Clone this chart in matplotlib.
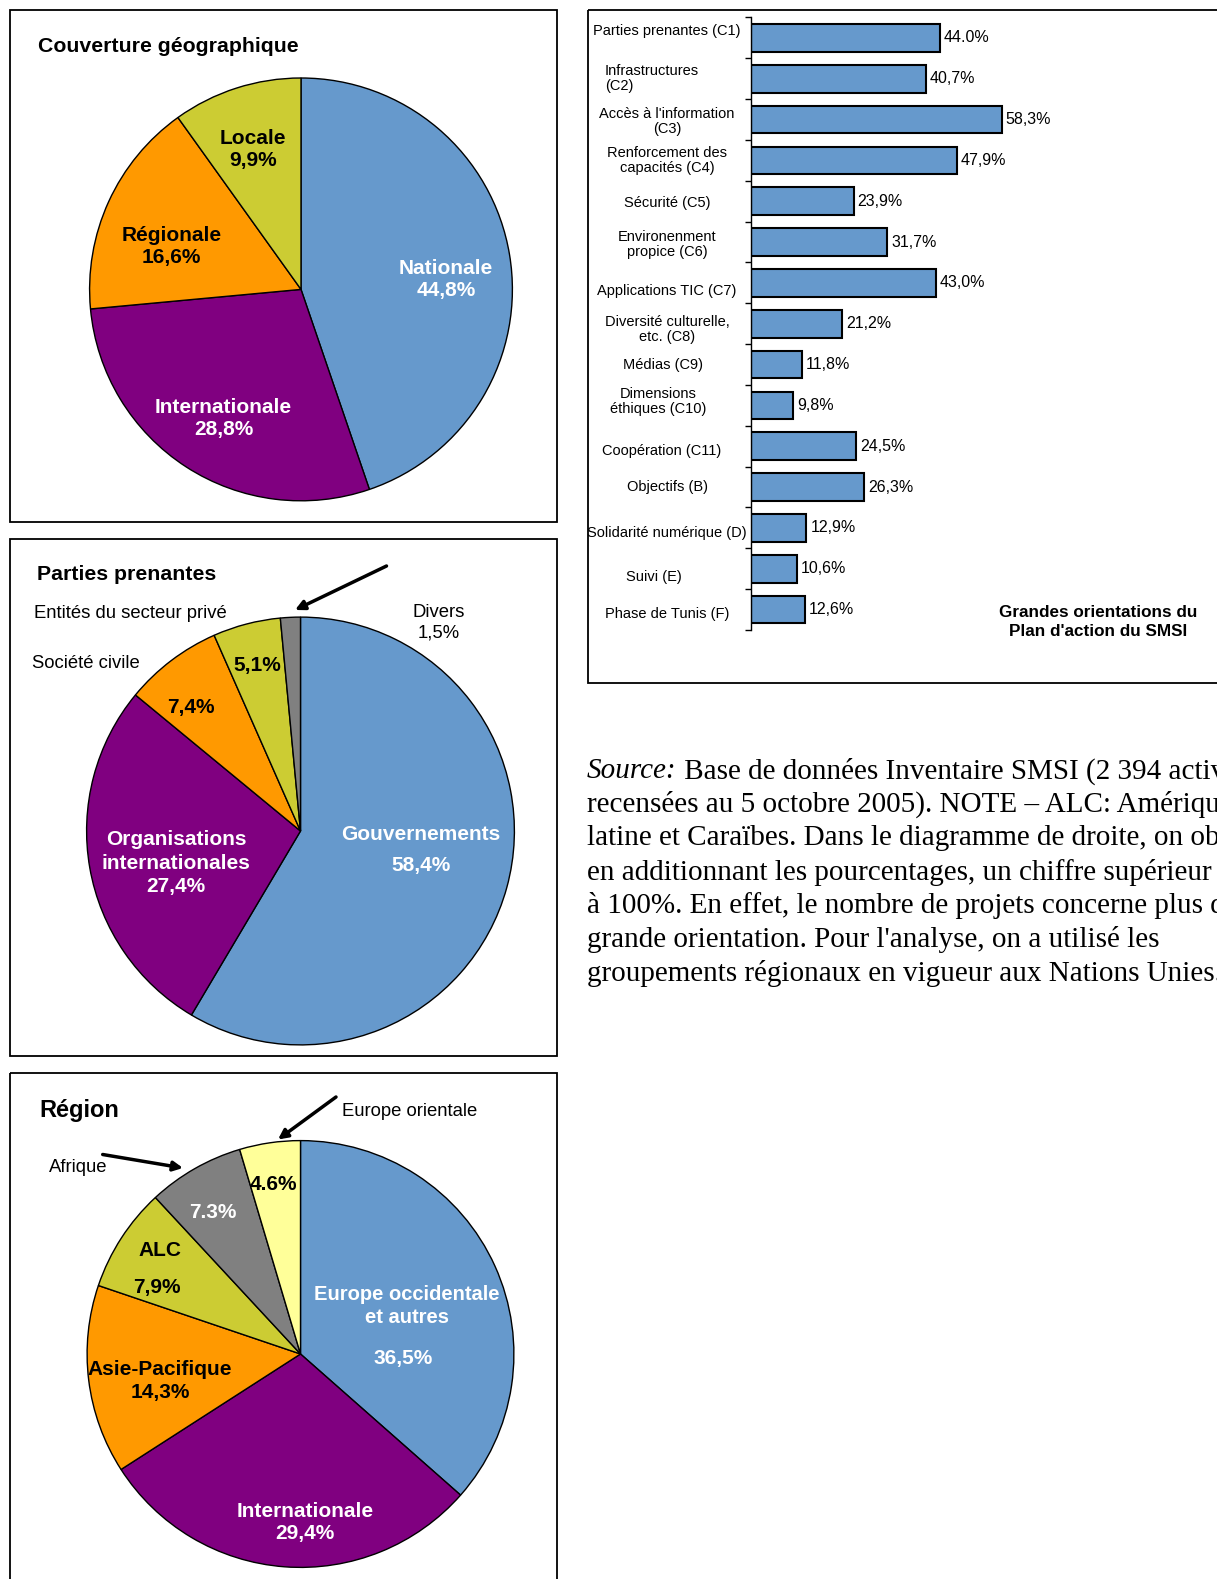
import matplotlib
matplotlib.use('Agg')
import matplotlib.pyplot as plt
from matplotlib.patches import Rectangle
from matplotlib.transforms import blended_transform_factory

plt.rcParams['font.family'] = ['Liberation Sans', 'DejaVu Sans']

W, H = 1217, 1579

# --- Données ---
geo_labels = ['Nationale', 'Internationale', 'Régionale', 'Locale']
geo_values = [44.8, 28.8, 16.6, 9.9]
geo_colors = ['#6699CC', '#800080', '#FF9900', '#CCCC33']

pp_labels = ['Gouvernements', 'Organisations\ninternationales', 'Société civile',
             'Entités du secteur privé', 'Divers']
pp_values = [58.4, 27.4, 7.4, 5.1, 1.5]
pp_colors = ['#6699CC', '#800080', '#FF9900', '#CCCC33', '#808080']

reg_labels = ['Europe occidentale\net autres', 'Internationale', 'Asie-Pacifique',
              'ALC', 'Afrique', 'Europe orientale']
reg_values = [36.5, 29.4, 14.3, 7.9, 7.3, 4.6]
reg_colors = ['#6699CC', '#800080', '#FF9900', '#CCCC33', '#808080', '#FFFF99']
reg_sep = [',', ',', ',', ',', '.', '.']

bar_labels = ['Parties prenantes (C1)', 'Infrastructures\n(C2)',
              "Accès à l'information\n(C3)", 'Renforcement des\ncapacités (C4)',
              'Sécurité (C5)', 'Environenment\npropice (C6)', 'Applications TIC (C7)',
              'Diversité culturelle,\netc. (C8)', 'Médias (C9)',
              'Dimensions\néthiques (C10)', 'Coopération (C11)', 'Objectifs (B)',
              'Solidarité numérique (D)', 'Suivi (E)', 'Phase de Tunis (F)']
bar_values = [44.0, 40.7, 58.3, 47.9, 23.9, 31.7, 43.0, 21.2, 11.8, 9.8,
              24.5, 26.3, 12.9, 10.6, 12.6]
bar_sep = ['.'] + [','] * 14

source_lines = [
    "recensées au 5 octobre 2005). NOTE – ALC: Amérique",
    "latine et Caraïbes. Dans le diagramme de droite, on obtient,",
    "en additionnant les pourcentages, un chiffre supérieur",
    "à 100%. En effet, le nombre de projets concerne plus d'une",
    "grande orientation. Pour l'analyse, on a utilisé les",
    "groupements régionaux en vigueur aux Nations Unies.",
]


def pct(v, sep=','):
    return f"{v:.1f}%".replace('.', sep)


def fbox(x0, y0, w, h):
    return [x0 / W, 1 - (y0 + h) / H, w / W, h / H]


fig = plt.figure(figsize=(W / 100, H / 100), dpi=100)


def draw_pie(cx, cy, r, values, colors):
    m = 1.03
    ax = fig.add_axes(fbox(cx - r * m, cy - r * m, 2 * r * m, 2 * r * m))
    ax.pie(values, colors=colors, startangle=90, counterclock=False, radius=1,
           wedgeprops=dict(edgecolor='black', linewidth=1))
    ax.set_xlim(-m, m)
    ax.set_ylim(-m, m)
    ax.set_aspect('equal')
    ax.axis('off')
    return ax


def lab(ax, x, y, s, color='black', size=15, **kw):
    ax.text(x, y, s, ha='center', va='center', color=color, fontsize=size,
            fontweight='bold', **kw)


# 1) Couverture géographique
ax1 = draw_pie(301, 289.4, 211.4, geo_values, geo_colors)
pos1 = [(0.685, 0.048), (-0.367, -0.61), (-0.614, 0.205), (-0.229, 0.662)]
col1 = ['white', 'white', 'black', 'black']
for (x, y), c, name, v in zip(pos1, col1, geo_labels, geo_values):
    lab(ax1, x, y, f"{name}\n{pct(v)}", color=c)

# 2) Parties prenantes
ax2 = draw_pie(300.5, 831, 213.9, pp_values, pp_colors)
lab(ax2, 0.562, -0.089, f"{pp_labels[0]}\n{pct(pp_values[0])}", color='white',
    linespacing=1.75)
lab(ax2, -0.581, -0.15, f"{pp_labels[1]}\n{pct(pp_values[1])}", color='white',
    linespacing=1.3)
lab(ax2, -0.511, 0.576, pct(pp_values[2]))
lab(ax2, -0.2, 0.776, pct(pp_values[3]))

# 3) Région
ax3 = draw_pie(300.5, 1354, 213.4, reg_values, reg_colors)
lab(ax3, 0.498, 0.226, reg_labels[0], color='white', size=14.5, linespacing=1.25)
lab(ax3, 0.479, -0.019, pct(reg_values[0], reg_sep[0]), color='white')
lab(ax3, 0.021, -0.79, f"{reg_labels[1]}\n{pct(reg_values[1], reg_sep[1])}",
    color='white', linespacing=1.25)
lab(ax3, -0.658, -0.127, f"{reg_labels[2]}\n{pct(reg_values[2], reg_sep[2])}",
    linespacing=1.25)
lab(ax3, -0.658, 0.486, reg_labels[3])
lab(ax3, -0.672, 0.311, pct(reg_values[3], reg_sep[3]))
lab(ax3, -0.413, 0.665, pct(reg_values[4], reg_sep[4]), color='white')
lab(ax3, -0.125, 0.792, pct(reg_values[5], reg_sep[5]))

# 4) Grandes orientations (barres)
axb = fig.add_axes(fbox(751, 17.5, 430, 612.5))
ypos = list(range(len(bar_values)))
axb.barh(ypos, bar_values, height=0.68, color='#6699CC', edgecolor='black',
         linewidth=1.5)
axb.set_xlim(0, 100)
axb.set_ylim(len(bar_values) - 0.5, -0.5)
for s in ['top', 'right', 'bottom']:
    axb.spines[s].set_visible(False)
axb.spines['left'].set_linewidth(1)
axb.set_xticks([])
axb.set_yticks([])
axb.set_yticks([i - 0.5 for i in range(len(bar_values) + 1)], minor=True)
axb.tick_params(axis='y', which='minor', length=4, direction='out', width=1)
axb.patch.set_visible(False)

lab_dy = [-0.17, 0, 0.04, 0, 0.05, 0.07, 0.2, 0.15, 0.02, -0.1, 0.12, 0, 0.12, 0.21, 0.12]
lab_dx = [0, -0.035, 0, 0, 0, 0, 0, 0, -0.01, -0.022, -0.012, 0, 0, -0.03, 0]
tr = blended_transform_factory(axb.transAxes, axb.transData)
for i, (name, v) in enumerate(zip(bar_labels, bar_values)):
    ma = 'left' if i == 1 else 'center'
    axb.text(-0.195 + lab_dx[i], i + lab_dy[i], name, transform=tr, ha='center',
             va='center', fontsize=10.5, multialignment=ma, linespacing=1.1)
    axb.text(v + 0.9, i, pct(v, bar_sep[i]), ha='left', va='center', fontsize=11.5)

# --- Cadres, titres, flèches, source ---
ov = fig.add_axes([0, 0, 1, 1])
ov.set_xlim(0, W)
ov.set_ylim(H, 0)
ov.axis('off')
ov.patch.set_visible(False)

frame = dict(fill=False, edgecolor='black', linewidth=1.3)
ov.add_patch(Rectangle((9.5, 9.5), 547, 512, **frame))
ov.add_patch(Rectangle((9.5, 539), 547, 516.7, **frame))
ov.add_patch(Rectangle((9.5, 1073.3), 547, 600, **frame))
ov.add_patch(Rectangle((587.7, 9.5), 700, 673.8, **frame))

ov.text(38, 47, 'Couverture géographique', fontsize=15.3, fontweight='bold',
        ha='left', va='center')
ov.text(37, 575, 'Parties prenantes', fontsize=15.3, fontweight='bold',
        ha='left', va='center')
ov.text(39, 1111, 'Région', fontsize=17, fontweight='bold', ha='left', va='center')
ov.text(1098, 622, "Grandes orientations du\nPlan d'action du SMSI", fontsize=12.3,
        fontweight='bold', ha='center', va='center', linespacing=1.4)

ov.text(34, 614, pp_labels[3], fontsize=13.3, ha='left', va='center')
ov.text(32, 664, pp_labels[2], fontsize=13.3, ha='left', va='center')
ov.text(439, 623, f"{pp_labels[4]}\n{pct(pp_values[4])}", fontsize=13.3,
        ha='center', va='center', linespacing=1.25)
ov.text(49, 1167, reg_labels[4], fontsize=13.3, ha='left', va='center')
ov.text(342, 1112, reg_labels[5], fontsize=13.3, ha='left', va='center')

arrow = dict(arrowstyle='-|>', lw=2.5, color='black', mutation_scale=14,
             shrinkA=0, shrinkB=0)
ov.annotate('', xy=(295, 610), xytext=(386.5, 566), arrowprops=arrow)
ov.annotate('', xy=(183, 1168), xytext=(102.7, 1154.5), arrowprops=arrow)
ov.annotate('', xy=(278, 1139.5), xytext=(336, 1097), arrowprops=arrow)

serif = ['Liberation Serif', 'DejaVu Serif']
fs = 21
y0, dy = 771, 33.7
src = ov.text(587, y0, 'Source:', family=serif, style='italic', fontsize=fs,
              ha='left', va='center')
ov.annotate(' Base de données Inventaire SMSI (2 394 activités', xy=(1, y0),
            xycoords=(src, 'data'), family=serif, fontsize=fs, ha='left',
            va='center', annotation_clip=False)
for i, line in enumerate(source_lines):
    ov.text(587, y0 + dy * (i + 1), line, family=serif, fontsize=fs,
            ha='left', va='center')

fig.savefig('out.png', dpi=100)
